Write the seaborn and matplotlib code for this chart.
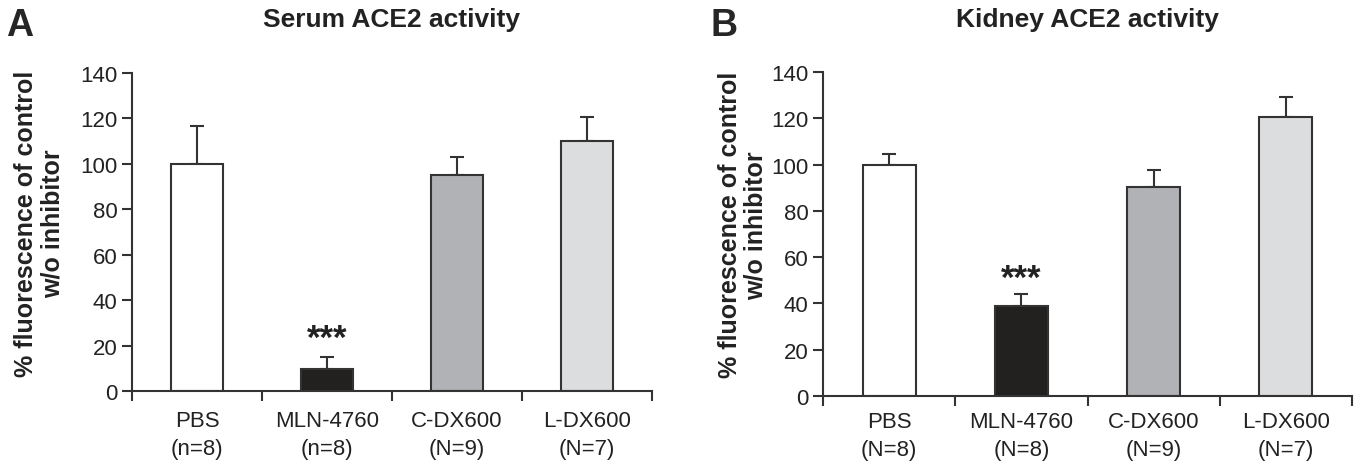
import matplotlib
matplotlib.use("Agg")
import matplotlib.pyplot as plt
import numpy as np
import pandas as pd
import seaborn as sb

# values
groups = ["PBS", "MLN-4760", "C-DX600", "L-DX600"]
serumN = ["(n=8)", "(n=8)", "(N=9)", "(N=7)"]
kidneyN = ["(N=8)", "(N=8)", "(N=9)", "(N=7)"]
serumMean = [100, 9.5, 95, 110]
serumErr = [16.5, 5.5, 8, 10.5]
kidneyMean = [100, 39, 90.5, 120.5]
kidneyErr = [4.5, 5, 7, 8.5]
barColors = ["#ffffff", "#231f20", "#b1b2b5", "#dcdddf"]

sb.set_style("white")
plt.rcParams['font.family'] = ['Liberation Sans', 'DejaVu Sans']
edge = "#333333"


def panel(ax, means, errs, nlabels, title, starY, labelX, tickPad):
    df = pd.DataFrame({'group': groups, 'value': means})
    sb.barplot(data=df, x='group', y='value', hue='group', palette=barColors,
               legend=False, width=0.4, edgecolor=edge, linewidth=1.5,
               errorbar=None, ax=ax)
    x = np.arange(len(groups))
    ax.errorbar(x, means, yerr=[np.zeros(len(errs)), errs], fmt='none',
                ecolor=edge, elinewidth=1.5, capsize=5, capthick=1.5, zorder=1)
    for p in ax.patches:
        p.set_zorder(2)
    ax.set_xlim(-0.5, 3.5)
    ax.set_ylim(0, 140)
    ax.set_yticks(range(0, 141, 20))
    ax.set_xticks(x, [g + "\n" + n for g, n in zip(groups, nlabels)])
    ax.set_xticks(np.arange(-0.5, 4, 1), minor=True)
    ax.tick_params(axis='x', which='major', length=0, pad=tickPad, labelsize=16, colors='#222222')
    ax.tick_params(axis='x', which='minor', length=7, width=1.5, direction='out', color=edge, bottom=True)
    ax.tick_params(axis='y', length=7, width=1.5, direction='out', color=edge, labelsize=16, left=True,
                   labelcolor='#222222')
    for lab in ax.get_xticklabels():
        lab.set_linespacing(1.4)
    for s in ['top', 'right']:
        ax.spines[s].set_visible(False)
    for s in ['left', 'bottom']:
        ax.spines[s].set_color(edge)
        ax.spines[s].set_linewidth(1.5)
    ax.set_xlabel('')
    ax.set_ylabel('% fluorescence of control\nw/o inhibitor', fontsize=18, fontweight='bold',
                  linespacing=1.1, color='#222222')
    ax.yaxis.set_label_coords(labelX, 0.53)
    bb = ax.get_position()
    fig.text((bb.x0 + bb.x1) / 2, 1 - 20 / 464, title, ha='center', va='center',
             fontsize=19, fontweight='bold', color='#222222')
    ax.text(1, starY, '***', ha='center', va='center', fontsize=25, fontweight='bold', color='#222222')


fig = plt.figure(figsize=(13.6, 4.64), dpi=100)
axA = fig.add_axes([132 / 1360, 1 - 392 / 464, 520 / 1360, 318 / 464])
axB = fig.add_axes([823 / 1360, 1 - 397 / 464, 529 / 1360, 324 / 464])

panel(axA, serumMean, serumErr, serumN, 'Serum ACE2 activity', 23, -0.13, 14)
panel(axB, kidneyMean, kidneyErr, kidneyN, 'Kidney ACE2 activity', 51, -0.105, 11)

fig.text(20 / 1360, 1 - 26 / 464, 'A', fontsize=27, fontweight='bold', ha='center', va='center')
fig.text(724 / 1360, 1 - 26 / 464, 'B', fontsize=27, fontweight='bold', ha='center', va='center')

plt.savefig('out.png', dpi=100)
